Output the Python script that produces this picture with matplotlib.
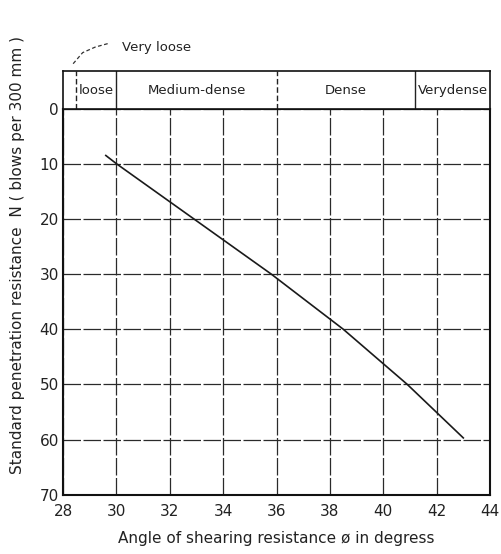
import matplotlib.pyplot as plt

# SPT blow count versus friction angle
phi = [29.6, 30.0, 35.8, 38.5, 40.9, 43.0]
n_spt = [8.5, 10.0, 30.0, 40.0, 50.0, 59.7]

x_ticks = [28, 30, 32, 34, 36, 38, 40, 42, 44]
y_ticks = [0, 10, 20, 30, 40, 50, 60, 70]

# relative density bands (left edge, right edge, label)
band_edges = [28, 28.5, 30, 36, 41.2, 44]
band_labels = ["", "loose", "Medium-dense", "Dense", "Verydense"]

plt.rcParams["font.family"] = "DejaVu Sans"
fig = plt.figure(figsize=(5.01, 5.54), dpi=100)

ax = fig.add_axes([0.126, 0.107, 0.852, 0.697])
ax.plot(phi, n_spt, color="#1a1a1a", lw=1.2)
ax.set_xlim(28, 44)
ax.set_ylim(70, 0)
ax.set_xticks(x_ticks)
ax.set_yticks(y_ticks)
ax.tick_params(length=0, labelsize=11, colors="#222222", pad=3)
ax.tick_params(axis="x", pad=7)
ax.grid(True, color="#2a2a2a", lw=0.9, ls=(0, (14, 2)))
for s in ax.spines.values():
    s.set_linewidth(1.5)
    s.set_color("#111111")
ax.set_xlabel("Angle of shearing resistance ø in degress", fontsize=11,
              color="#222222", labelpad=8)
ax.set_ylabel("Standard penetration resistance  N ( blows per 300 mm )",
              fontsize=11, color="#222222", labelpad=2)
ax.yaxis.set_label_coords(-0.09, 0.62)

# band strip on top
bx = fig.add_axes([0.126, 0.804, 0.852, 0.068], sharex=ax)
bx.set_ylim(0, 1)
bx.tick_params(left=False, bottom=False, labelleft=False, labelbottom=False)
for s in bx.spines.values():
    s.set_linewidth(1.2)
    s.set_color("#111111")
for i, e in enumerate(band_edges[1:-1]):
    bx.axvline(e, color="#222222", lw=1.0, ls=(0, (4, 2)) if i in (0, 2) else "-")
for lo, hi, lab in zip(band_edges[:-1], band_edges[1:], band_labels):
    if lab:
        bx.text((lo + hi) / 2, 0.48, lab, ha="center", va="center",
                fontsize=9.5, color="#222222")

# very loose callout
fig.text(0.243, 0.915, "Very loose", fontsize=9.5, color="#222222", va="center")
fig.add_artist(plt.Line2D([0.146, 0.165, 0.19, 0.218], [0.885, 0.905, 0.915, 0.922],
                          color="#333333", lw=0.9, ls=(0, (3, 2))))

fig.savefig("out.png", dpi=100)
